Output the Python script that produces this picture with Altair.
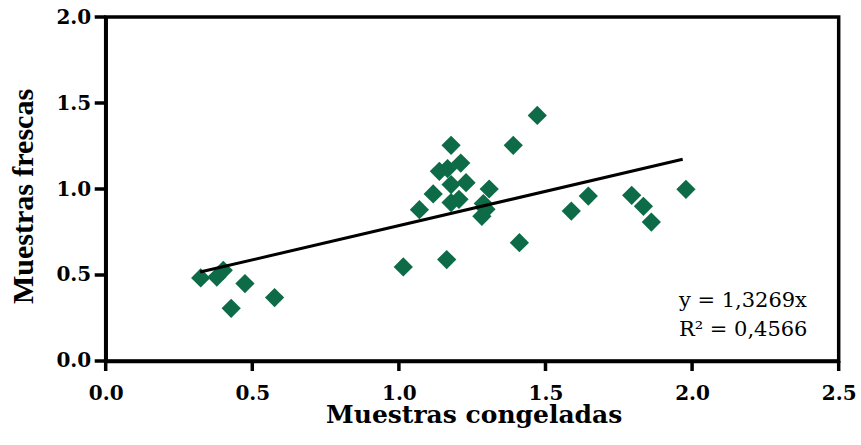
import altair as alt
import pandas as pd

# Frozen (x) vs fresh (y) sample measurements
congeladas = [0.324, 0.379, 0.401, 0.475, 0.428, 0.576, 1.015, 1.070, 1.117, 1.138,
              1.166, 1.163, 1.178, 1.178, 1.178, 1.205, 1.211, 1.229, 1.283, 1.288,
              1.297, 1.308, 1.390, 1.411, 1.472, 1.588, 1.646, 1.794, 1.834, 1.861,
              1.979]
frescas = [0.483, 0.488, 0.527, 0.450, 0.306, 0.369, 0.547, 0.880, 0.971, 1.103,
           1.119, 0.590, 1.254, 1.026, 0.921, 0.940, 1.151, 1.037, 0.841, 0.915,
           0.882, 1.000, 1.254, 0.688, 1.428, 0.872, 0.959, 0.963, 0.899, 0.808,
           0.998]

# Trend line end points
fit_x = [0.322, 1.968]
fit_y = [0.517, 1.173]

# Regression annotation
annot_text = ["y = 1,3269x", "R² = 0,4566"]
annot_x = [1.955, 1.955]
annot_y = [0.312, 0.143]

x_ticks = [0.0, 0.5, 1.0, 1.5, 2.0, 2.5]
y_ticks = [0.0, 0.5, 1.0, 1.5, 2.0]

pts = pd.DataFrame({"x": congeladas, "y": frescas})
fit = pd.DataFrame({"x": fit_x, "y": fit_y})
ann = pd.DataFrame({"x": annot_x, "y": annot_y, "t": annot_text})
xt = pd.DataFrame({"v": x_ticks})
yt = pd.DataFrame({"v": y_ticks})

PLOT_W, PLOT_H = 733, 344
TICK_X, TICK_Y = 10, 11

x_scale = alt.Scale(domain=[0, 2.5], nice=False, zero=False)
y_scale = alt.Scale(domain=[0, 2.0], nice=False, zero=False)

x_axis = alt.Axis(
    title="Muestras congeladas", values=x_ticks, format=".1f",
    titleX=368, titleY=62, titleBaseline="alphabetic", titleAlign="center",
    labelPadding=TICK_X + 13, ticks=False,
    labelFlush=False, labelOverlap=False,
)
y_axis = alt.Axis(
    title="Muestras frescas", values=y_ticks, format=".1f",
    titleX=-73, titleY=179, titleBaseline="alphabetic", titleAlign="center",
    titleFont="Liberation Serif", titleFontSize=30, titleAngle=-90,
    labelPadding=TICK_Y + 4, ticks=False,
    labelFlush=False, labelOverlap=False,
)

points = alt.Chart(pts).mark_point(
    shape="diamond", filled=True, size=370, color="#0e6b47", opacity=1
).encode(
    x=alt.X("x:Q", scale=x_scale, axis=x_axis),
    y=alt.Y("y:Q", scale=y_scale, axis=y_axis),
)

line = alt.Chart(fit).mark_line(color="black", strokeWidth=3).encode(
    x=alt.X("x:Q", scale=x_scale),
    y=alt.Y("y:Q", scale=y_scale),
)

# Outward tick marks along both axes
x_tick_marks = alt.Chart(xt).mark_rule(color="black", strokeWidth=3.5, clip=False).encode(
    x=alt.X("v:Q", scale=x_scale),
    y=alt.value(PLOT_H),
    y2=alt.value(PLOT_H + TICK_X),
)
y_tick_marks = alt.Chart(yt).mark_rule(color="black", strokeWidth=3.5, clip=False).encode(
    y=alt.Y("v:Q", scale=y_scale),
    x=alt.value(-TICK_Y),
    x2=alt.value(0),
)

labels = alt.Chart(ann).mark_text(
    align="left", baseline="alphabetic", font="DejaVu Serif", fontSize=21,
    color="black",
).encode(
    x=alt.X("x:Q", scale=x_scale),
    y=alt.Y("y:Q", scale=y_scale),
    text="t:N",
)

chart = alt.layer(points, line, x_tick_marks, y_tick_marks, labels).properties(
    width=PLOT_W, height=PLOT_H,
    autosize=alt.AutoSizeParams(type="none"),
    padding={"left": 105.7, "top": 17, "right": 22, "bottom": 84},
).configure_view(
    stroke="black", strokeWidth=3.5
).configure_axis(
    grid=False,
    domainColor="black", domainWidth=3.5,
    labelFont="DejaVu Serif", labelFontSize=20, labelFontWeight="bold",
    labelColor="black",
    titleFont="DejaVu Serif", titleFontSize=25, titleFontWeight="bold",
    titleColor="black",
)

chart.save("out.html", embed_options={"renderer": "svg", "actions": False})
